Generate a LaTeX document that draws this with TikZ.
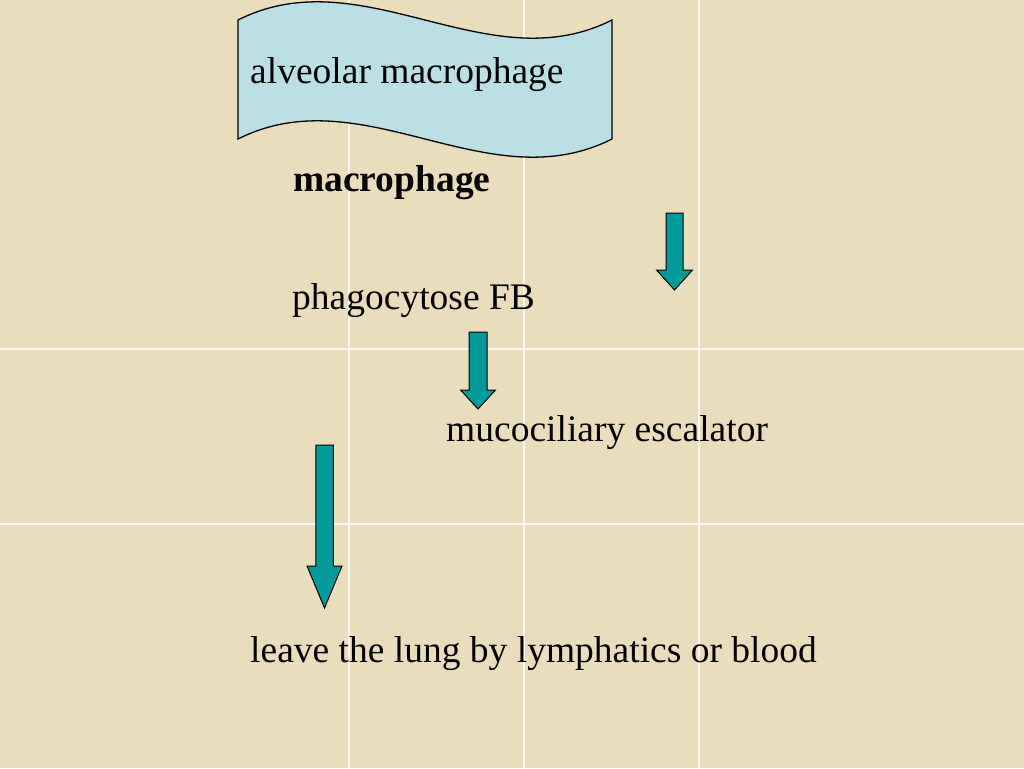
\documentclass[tikz,border=0pt]{standalone}
\usepackage{fontspec}
\setmainfont{Liberation Serif}
\definecolor{parch}{HTML}{E9DDBB}
\definecolor{bannerblue}{HTML}{BADFE4}
\definecolor{tealfill}{HTML}{009A9A}
\newcommand\blockdownarrow[7]{%
  % #1 name, #2 center x, #3 shaft half width, #4 top y, #5 head base y, #6 head half width, #7 tip y
  \draw[tealarrow] ({#2-#3},#4) -- ({#2+#3},#4) -- ({#2+#3},#5) -- ({#2+#6},#5)
    -- (#2,#7) -- ({#2-#6},#5) -- ({#2-#3},#5) -- cycle;
  \coordinate (#1) at (#2,#7);
}
\begin{document}
\begin{tikzpicture}[x=1pt,y=-1pt,
  lbl/.style={anchor=base west, inner sep=0pt, font=\fontsize{37.5}{40}\selectfont},
  tealarrow/.style={fill=tealfill, draw=black, line width=1pt, line join=miter},
  gridline/.style={white, line width=1.2pt, opacity=0.8},
  banner/.style={fill=bannerblue, draw=black, line width=1.3pt}]
\fill[parch] (0,0) rectangle (1024,768);
\useasboundingbox (0,0) rectangle (1024,768);
% faint tile seams of the background
\foreach \gx in {349,524,699} \draw[gridline] (\gx,0) -- (\gx,768);
\foreach \gy in {349,524} \draw[gridline] (0,\gy) -- (1024,\gy);
% wave banner
\draw[banner] (238,20) .. controls (363,-43) and (487,83) .. (612,20)
  -- (612,139) .. controls (487,202) and (363,76) .. (238,139) -- cycle;
% texts
\node[lbl] (alv) at (250,83) {alveolar macrophage};
\node[lbl, font=\fontsize{37.5}{40}\selectfont\bfseries] (mac) at (293,191) {macrophage};
\node[lbl] (phago) at (292,309) {phagocytose FB};
\node[lbl] (muco) at (446,441) {mucociliary escalator};
\node[lbl] (leave) at (250,662) {leave the lung by lymphatics or blood};
% block arrows
\blockdownarrow{a1}{674.5}{8.5}{213}{270}{18}{290}
\blockdownarrow{a2}{478}{9}{332}{390}{17.5}{409}
\blockdownarrow{a3}{324.5}{8.75}{445}{566}{17.5}{608}
\end{tikzpicture}
\end{document}
